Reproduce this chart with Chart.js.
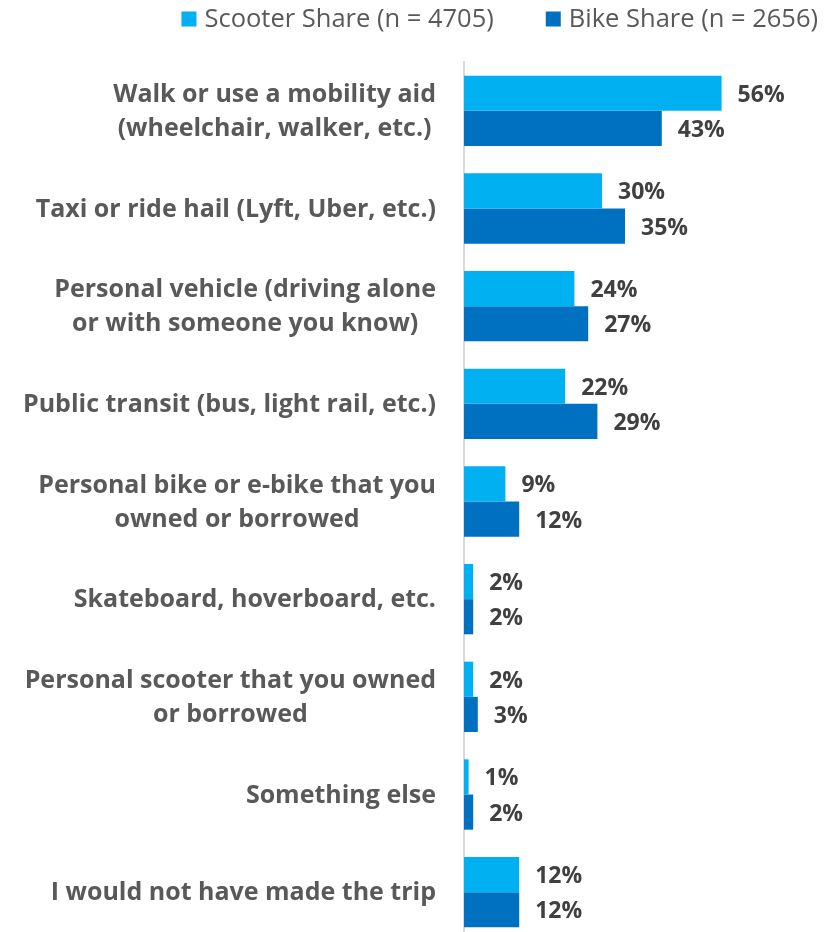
<!DOCTYPE html>
<html><head><meta charset="utf-8">
<script src="https://cdn.jsdelivr.net/npm/chart.js@4.4.0/dist/chart.umd.min.js"></script>
<style>html,body{margin:0;padding:0;background:#fff;overflow:hidden}#wrap{position:relative;width:829px;height:941px}</style>
</head><body><div id="wrap"><canvas id="c" width="829" height="941"></canvas></div>
<script>
const categories = [
  ["Walk or use a mobility aid", "(wheelchair, walker, etc.)"],
  "Taxi or ride hail (Lyft, Uber, etc.)",
  ["Personal vehicle (driving alone", "or with someone you know)"],
  "Public transit (bus, light rail, etc.)",
  ["Personal bike or e-bike that you", "owned or borrowed"],
  "Skateboard, hoverboard, etc.",
  ["Personal scooter that you owned", "or borrowed"],
  "Something else",
  "I would not have made the trip"
];
const scooterShare = [56, 30, 24, 22, 9, 2, 2, 1, 12];
const bikeShare = [43, 35, 27, 29, 12, 2, 3, 2, 12];
const seriesNames = ["Scooter Share (n = 4705)", "Bike Share (n = 2656)"];
const seriesColors = ["#00B0F0", "#0070C0"];

const FONT = '"Open Sans", "Noto Sans", sans-serif';

const valueLabels = {
  id: 'valueLabels',
  afterDatasetsDraw(chart) {
    const ctx = chart.ctx;
    ctx.save();
    ctx.font = 'bold 23px ' + FONT;
    ctx.fillStyle = '#404040';
    ctx.textAlign = 'left';
    ctx.textBaseline = 'middle';
    chart.data.datasets.forEach((ds, di) => {
      const meta = chart.getDatasetMeta(di);
      meta.data.forEach((el, i) => {
        ctx.fillText(ds.data[i] + '%', el.x + 16, el.y + 2);
      });
    });
    ctx.restore();
  }
};

// Category labels: each wrapped block right-aligned to the axis, lines centred within the block
const categoryLabels = {
  id: 'categoryLabels',
  afterDraw(chart) {
    const ctx = chart.ctx;
    const scale = chart.scales.y;
    ctx.save();
    ctx.font = 'bold 25px ' + FONT;
    ctx.fillStyle = '#595959';
    ctx.textAlign = 'center';
    ctx.textBaseline = 'middle';
    const right = scale.right - 28;
    const lh = 34;
    chart.data.labels.forEach((lab, i) => {
      const lines = Array.isArray(lab) ? lab : [lab];
      const w = Math.max(...lines.map(l => ctx.measureText(l).width));
      const cx = right - w / 2;
      const cy = scale.getPixelForTick(i);
      lines.forEach((l, k) => {
        ctx.fillText(l, cx, cy + (k - (lines.length - 1) / 2) * lh + 1);
      });
    });
    ctx.restore();
  }
};

const topLegend = {
  id: 'topLegend',
  afterDraw(chart) {
    const ctx = chart.ctx;
    ctx.save();
    ctx.font = '25.5px ' + FONT;
    ctx.textBaseline = 'middle';
    ctx.textAlign = 'left';
    const box = 15, gapBox = 8, gapItem = 52;
    const items = chart.data.datasets.map(ds => ({text: ds.label, color: ds.backgroundColor, w: ctx.measureText(ds.label).width}));
    let total = 0;
    items.forEach((it, i) => { total += box + gapBox + it.w + (i < items.length - 1 ? gapItem : 0); });
    let x = 818 - total;
    const cy = 19;
    items.forEach(it => {
      ctx.fillStyle = it.color;
      ctx.fillRect(x, cy - box / 2, box, box);
      x += box + gapBox;
      ctx.fillStyle = '#595959';
      ctx.fillText(it.text, x, cy + 1);
      x += it.w + gapItem;
    });
    ctx.restore();
  }
};

new Chart(document.getElementById('c'), {
  type: 'bar',
  data: {
    labels: categories,
    datasets: [
      {label: seriesNames[0], data: scooterShare, backgroundColor: seriesColors[0], barPercentage: 1, categoryPercentage: 0.72},
      {label: seriesNames[1], data: bikeShare, backgroundColor: seriesColors[1], barPercentage: 1, categoryPercentage: 0.72}
    ]
  },
  options: {
    indexAxis: 'y',
    responsive: false,
    devicePixelRatio: 1,
    animation: false,
    layout: {padding: {top: 62, right: 43, bottom: 0, left: 0}},
    plugins: {legend: {display: false}, tooltip: {enabled: false}},
    scales: {
      x: {display: false, min: 0, max: 70},
      y: {
        afterFit(scale) { scale.width = 464; scale.paddingTop = 0; scale.paddingBottom = 0; },
        grid: {display: false, drawTicks: false},
        border: {display: true, color: '#D9D9D9', width: 2},
        ticks: {display: false}
      }
    }
  },
  plugins: [valueLabels, categoryLabels, topLegend]
});
</script>
</body></html>
